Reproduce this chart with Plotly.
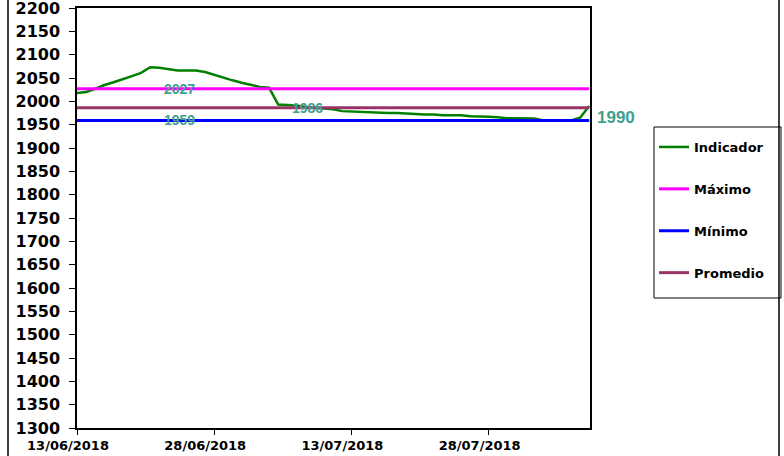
import plotly.graph_objects as go

# ---- data ----
dates = [
    "2018-06-13", "2018-06-14", "2018-06-15", "2018-06-16", "2018-06-17", "2018-06-18",
    "2018-06-19", "2018-06-20", "2018-06-21", "2018-06-22", "2018-06-23", "2018-06-24",
    "2018-06-25", "2018-06-26", "2018-06-27", "2018-06-28", "2018-06-29", "2018-06-30",
    "2018-07-01", "2018-07-02", "2018-07-03", "2018-07-04", "2018-07-05", "2018-07-06",
    "2018-07-07", "2018-07-08", "2018-07-09", "2018-07-10", "2018-07-11", "2018-07-12",
    "2018-07-13", "2018-07-14", "2018-07-15", "2018-07-16", "2018-07-17", "2018-07-18",
    "2018-07-19", "2018-07-20", "2018-07-21", "2018-07-22", "2018-07-23", "2018-07-24",
    "2018-07-25", "2018-07-26", "2018-07-27", "2018-07-28", "2018-07-29", "2018-07-30",
    "2018-07-31", "2018-08-01", "2018-08-02", "2018-08-03", "2018-08-04", "2018-08-05",
    "2018-08-06", "2018-08-07", "2018-08-08",
]
indicador = [
    2018, 2020, 2027, 2035, 2041, 2047, 2054, 2061, 2073, 2072, 2069, 2066,
    2066, 2066, 2063, 2057, 2050, 2045, 2040, 2035, 2031, 2029, 1993, 1992,
    1991, 1988, 1986, 1985, 1983, 1979, 1978, 1978, 1977, 1975, 1975, 1975,
    1974, 1972, 1972, 1972, 1970, 1970, 1970, 1968, 1968, 1967, 1966, 1964,
    1964, 1964, 1963, 1959, 1959, 1959, 1959, 1965, 1990,
]
maximo = 2027
minimo = 1959
promedio = 1986

x_tick_vals = ["2018-06-13", "2018-06-28", "2018-07-13", "2018-07-28"]
x_tick_text = ["13/06/2018", "28/06/2018", "13/07/2018", "28/07/2018"]
y_range = [1300, 2200]
y_step = 50

# ---- styles ----
GREEN = "#008000"
MAGENTA = "#FF00FF"
BLUE = "#0000FF"
PLUM = "#993366"
LABEL = "#40A090"

fig = go.Figure()
span = [dates[0], dates[-1]]
fig.add_trace(go.Scatter(x=dates, y=indicador, mode="lines", name="Indicador",
                         line=dict(color=GREEN, width=2.5), legendgroup="a"))
fig.add_trace(go.Scatter(x=span, y=[maximo, maximo], mode="lines", name="Máximo",
                         line=dict(color=MAGENTA, width=3), legendgroup="b"))
fig.add_trace(go.Scatter(x=span, y=[minimo, minimo], mode="lines", name="Mínimo",
                         line=dict(color=BLUE, width=3), legendgroup="c"))
fig.add_trace(go.Scatter(x=span, y=[promedio, promedio], mode="lines", name="Promedio",
                         line=dict(color=PLUM, width=3), legendgroup="d"))

lab_font = dict(family="Liberation Sans", size=14, color=LABEL, weight="bold")
fig.add_annotation(x="2018-06-24 05:00", y=maximo, text=str(maximo), showarrow=False, font=lab_font)
fig.add_annotation(x="2018-06-24 05:00", y=minimo, text=str(minimo), showarrow=False, font=lab_font)
fig.add_annotation(x="2018-07-08 05:00", y=promedio, text=str(promedio), showarrow=False, font=lab_font)
fig.add_annotation(x=dates[-1], y=indicador[-1], text=str(indicador[-1]), showarrow=False,
                   xanchor="left", xshift=6, yshift=-11,
                   font=dict(family="Liberation Sans", size=17, color=LABEL, weight="bold"))

# outer frame side lines
for xp in (-0.1345, 1.3684):
    fig.add_shape(type="line", xref="paper", yref="paper", x0=xp, x1=xp, y0=-0.07, y1=1.02,
                  line=dict(color="black", width=1.5))
# legend frame
fig.add_shape(type="rect", xref="paper", yref="paper",
              x0=(654 - 77) / 513, x1=(781 - 77) / 513,
              y0=(428 - 298) / 420, y1=(428 - 127) / 420,
              line=dict(color="black", width=1))

fig.update_layout(
    width=784, height=456,
    margin=dict(l=77, r=194, t=8, b=28, autoexpand=False),
    paper_bgcolor="white", plot_bgcolor="white",
    showlegend=True,
    legend=dict(x=1.1248, y=(428 - 132) / 420, xanchor="left", yanchor="top",
                borderwidth=0, bgcolor="rgba(0,0,0,0)",
                tracegroupgap=22,
                font=dict(family="DejaVu Sans", size=13, color="black", weight="bold")),
    xaxis=dict(type="date", range=[dates[0], "2018-08-08 02:00"],
               tickvals=x_tick_vals, ticktext=x_tick_text,
               ticks="outside", ticklen=5, tickcolor="black",
               showline=True, linecolor="black", linewidth=1.5, mirror=True,
               showgrid=False, zeroline=False, ticklabelshift=-9, automargin=False,
               ticklabeloverflow="allow",
               tickfont=dict(family="DejaVu Sans", size=13, color="black", weight="bold")),
    yaxis=dict(range=y_range, dtick=y_step, tick0=y_range[0],
               ticks="outside", ticklen=6, tickcolor="black",
               showline=True, linecolor="black", linewidth=1.5, mirror=True,
               showgrid=False, zeroline=False, ticklabelstandoff=6, automargin=False,
               ticklabeloverflow="allow",
               tickfont=dict(family="DejaVu Sans", size=16, color="black", weight="bold")),
)

fig.write_html("out.html", config={"displayModeBar": False},
               post_script="document.body.style.margin='0';document.body.style.overflow='hidden';")
